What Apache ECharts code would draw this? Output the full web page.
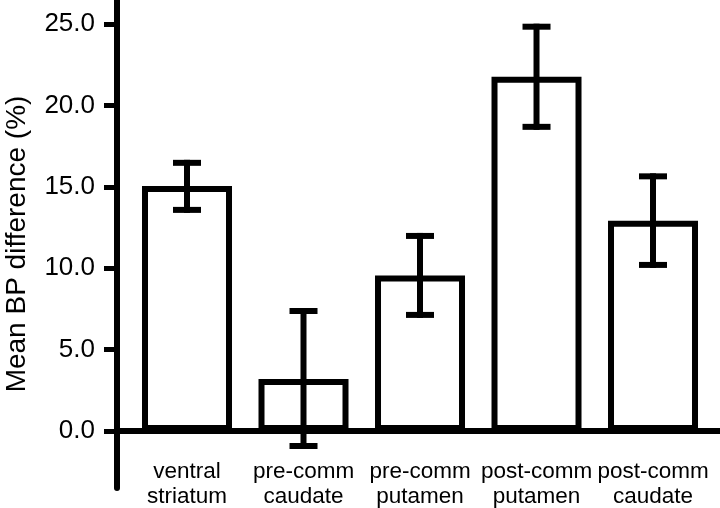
<!DOCTYPE html>
<html>
<head>
<meta charset="utf-8">
<script src="https://cdn.jsdelivr.net/npm/echarts@6/dist/echarts.min.js"></script>
<style>html,body{margin:0;padding:0;background:#fff;}#c{width:720px;height:508px;}</style>
</head>
<body>
<div id="c"></div>
<script>
var categories = ['ventral\nstriatum', 'pre-comm\ncaudate', 'pre-comm\nputamen', 'post-comm\nputamen', 'post-comm\ncaudate'];
var means = [15.05, 3.2, 9.55, 21.75, 12.92];
var errLow = [13.58, -0.92, 7.13, 18.68, 10.2];
var errHigh = [16.47, 7.37, 11.98, 24.83, 15.64];
var yTicks = [0, 5, 10, 15, 20, 25];
var catPositions = [0, 1, 2, 3, 4];

var FONT = "'Liberation Sans', Arial, Helvetica, sans-serif";
var chart = echarts.init(document.getElementById('c'), null, {renderer: 'canvas'});

var barData = catPositions.map(function (p, i) { return [p, means[i]]; });
var errData = catPositions.map(function (p, i) { return [p, errLow[i], errHigh[i]]; });

chart.setOption({
  animation: false,
  backgroundColor: '#ffffff',
  grid: {left: 117, right: 0, top: 0, bottom: 20, containLabel: false, outerBoundsMode: 'none'},
  xAxis: {
    type: 'value',
    min: -0.6009,
    max: 4.575,
    axisLine: {show: true, onZero: true, lineStyle: {color: '#000', width: 6}},
    axisTick: {show: false},
    splitLine: {show: false},
    axisLabel: {
      customValues: catPositions,
      formatter: function (v) { return categories[Math.round(v)]; },
      color: '#000',
      fontFamily: FONT,
      fontSize: 22.5,
      lineHeight: 25,
      margin: -29,
      showMinLabel: true,
      showMaxLabel: true
    }
  },
  yAxis: {
    type: 'value',
    min: -3.5,
    max: 26.47,
    name: 'Mean BP difference (%)',
    nameLocation: 'middle',
    nameRotate: 90,
    nameGap: 86,
    nameTextStyle: {color: '#000', fontFamily: FONT, fontSize: 28},
    axisLine: {show: true, onZero: false, lineStyle: {color: '#000', width: 6}},
    axisTick: {show: true, customValues: yTicks, length: 13, lineStyle: {color: '#000', width: 5}},
    splitLine: {show: false},
    axisLabel: {
      customValues: yTicks,
      formatter: function (v) { return v.toFixed(1); },
      color: '#000',
      fontFamily: FONT,
      fontSize: 26,
      margin: 22
    }
  },
  series: [
    {
      type: 'bar',
      data: barData,
      barWidth: 90,
      itemStyle: {color: '#ffffff', borderColor: '#000', borderWidth: 6},
      z: 2
    },
    {
      type: 'custom',
      data: errData,
      z: 3,
      renderItem: function (params, api) {
        var x = api.value(0);
        var lo = api.coord([x, api.value(1)]);
        var hi = api.coord([x, api.value(2)]);
        var hw = 14;
        var st = {stroke: '#000', lineWidth: 6, lineCap: 'butt'};
        return {
          type: 'group',
          children: [
            {type: 'line', shape: {x1: lo[0], y1: lo[1] + 3, x2: hi[0], y2: hi[1] - 3}, style: st},
            {type: 'line', shape: {x1: hi[0] - hw, y1: hi[1], x2: hi[0] + hw, y2: hi[1]}, style: st},
            {type: 'line', shape: {x1: lo[0] - hw, y1: lo[1], x2: lo[0] + hw, y2: lo[1]}, style: st}
          ]
        };
      }
    }
  ]
});
</script>
</body>
</html>
